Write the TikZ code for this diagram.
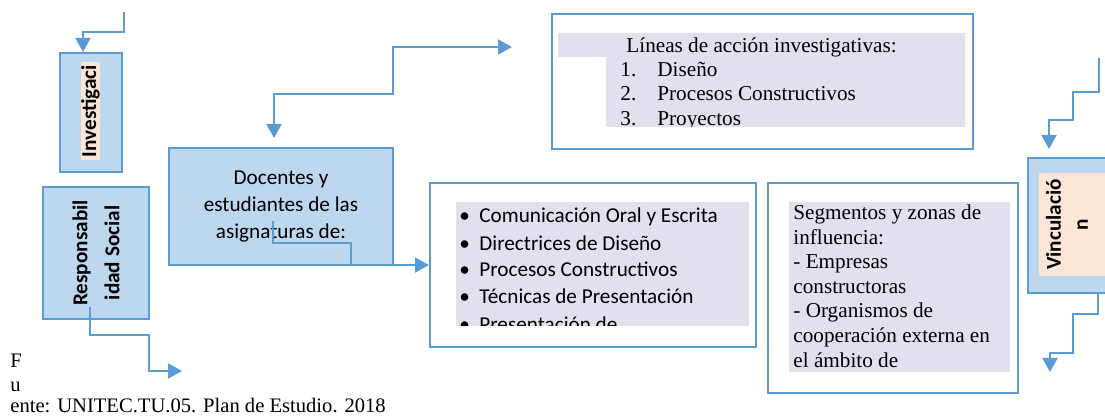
\documentclass[tikz,border=0pt]{standalone}
\usepackage{fontspec}
\setmainfont{Liberation Serif}
\newfontfamily\calibri{Carlito}
\usepackage{tikz}
\usetikzlibrary{arrows.meta,positioning,calc}
\definecolor{boxblue}{HTML}{5B9BD5}
\definecolor{softblue}{HTML}{BDD7EE}
\definecolor{peach}{HTML}{FBE5D6}
\definecolor{lilac}{HTML}{E4DFEC}
\tikzset{
    bluebox/.style={draw=boxblue,fill=softblue,line width=1pt,inner sep=0pt,
      anchor=north west},
    plainbox/.style={draw=boxblue,fill=white,line width=1pt,inner sep=0pt,
      anchor=north west},
    sidetext/.style={rotate=90,font=\calibri\bfseries\fontsize{10.6}{16}\selectfont,
      align=center,inner sep=0pt},
    sanstext/.style={font=\calibri\fontsize{10.6}{13.4}\selectfont,inner sep=0pt,
      anchor=base west},
    serifline/.style={font=\fontsize{10.6}{12.25}\selectfont,inner sep=0pt,
      anchor=base west},
    flowarrow/.style={-{Triangle[length=7pt,width=7.5pt]},draw=boxblue,
      line width=1pt},
    dblarrow/.style={{Triangle[length=7pt,width=7.5pt]}-{Triangle[length=7pt,width=7.5pt]},
      draw=boxblue,line width=1pt}
}
\begin{document}
\begin{tikzpicture}[x=0.5pt,y=-0.5pt]
    \useasboundingbox (0,0) rectangle (1105,417);
    % left column
    \node[bluebox,minimum width=31pt,minimum height=59.5pt] (inv) at (59,52) {};
    \node[sidetext,fill=peach,inner xsep=1.5pt] (inv-txt) at (90.5,111) {Investigaci};
    \node[bluebox,minimum width=53pt,minimum height=66pt] (resp) at (42,186) {};
    \node[sidetext] (resp-txt) at (resp.center) {Responsabil\\idad Social};
    \node[bluebox,minimum width=112pt,minimum height=58.5pt,align=center,
      font=\calibri\fontsize{10.6}{13.4}\selectfont] (doc) at (168,147)
      {Docentes y\\estudiantes de las\\asignaturas de:};
    % research lines
    \node[plainbox,minimum width=210.5pt,minimum height=67.5pt] (lin) at (551,13) {};
    \fill[lilac] (558,33) -- (965,33) -- (965,127) -- (606,127) -- (606,57)
      -- (558,57) -- cycle;
    \begin{scope}
      \clip (558,33) -- (965,33) -- (965,127) -- (606,127) -- (606,57)
        -- (558,57) -- cycle;
      \node[serifline] (lin-head) at (626,53) {Líneas de acción investigativas:};
      \foreach \t [count=\i] in {Diseño,Procesos Constructivos,Proyectos}{
        \node[serifline] (lin-n\i) at (620,{52+24.5*\i}) {\i.};
        \node[serifline] (lin-\i) at (657,{52+24.5*\i}) {\t};
      }
    \end{scope}
    % subjects
    \node[plainbox,minimum width=163pt,minimum height=82pt] (com) at (429,182) {};
    \fill[lilac] (456,202) rectangle (749,326);
    \begin{scope}
      \clip (456,202) rectangle (749,326);
      \foreach \t [count=\i] in {Comunicación Oral y Escrita,Directrices de Diseño,
        Procesos Constructivos,Técnicas de Presentación,Presentación de}{
        \node[sanstext] (com-b\i) at (459,{196+27*\i}) {\textbullet};
        \node[sanstext] (com-\i) at (479,{196+27*\i}) {\t};
      }
    \end{scope}
    % segments
    \node[plainbox,minimum width=125pt,minimum height=105pt] (seg) at (767,182) {};
    \fill[lilac] (789,202) rectangle (1010,372);
    \foreach \t [count=\i] in {Segmentos y zonas de,influencia:,- Empresas,
      constructoras,- Organismos de,cooperación externa en,el ámbito de}
      \node[serifline] (seg-\i) at (793,{195.5+24.5*\i}) {\t};
    % right column
    \node[bluebox,minimum width=49pt,minimum height=67.5pt] (vin) at (1027,157) {};
    \fill[peach] (1039,173) rectangle (1110,276);
    \node[sidetext,font=\calibri\bfseries\fontsize{10.6}{13.5}\selectfont] (vin-txt)
      at (1067,224.5) {Vinculació\\n};
    % connectors
    \coordinate (inv-in) at (124,12);
    \coordinate (resp-out) at (90,307);
    \coordinate (resp-end) at (182,371);
    \coordinate (lin-in) at (512,47);
    \coordinate (doc-out) at (273,221);
    \coordinate (vin-in) at (1099,58);
    \coordinate (vin-end) at (1050,372);
    \draw[flowarrow] (inv-in) |- (83,32) -- (inv.north -| 83,0);
    \draw[flowarrow] (resp-out) |- (149,335) |- (resp-end);
    \draw[dblarrow] (lin-in) -- (393,47) |- (274,94) -- ([yshift=4.5pt]doc.north -| 274,0);
    \draw[flowarrow] (doc-out) |- (351,243) |- (com.west);
    \draw[flowarrow] (vin-in) |- (1073,92) |- (1049,120) -- ([yshift=4pt]vin.north -| 1049,0);
    \draw[flowarrow] (vin.south -| 1098,0) |- (1073,314) |- (1050,353) -- (vin-end);
    % source
    \node[serifline,font=\fontsize{10.3}{12}\selectfont] (src-1) at (10,367) {F};
    \node[serifline,font=\fontsize{10.3}{12}\selectfont] (src-2) at (10,392) {u};
    \node[serifline,font=\fontsize{10.3}{12}\selectfont] (src-3) at (10,413)
      {ente: UNITEC.TU.05. Plan de Estudio. 2018};
\end{tikzpicture}
\end{document}
